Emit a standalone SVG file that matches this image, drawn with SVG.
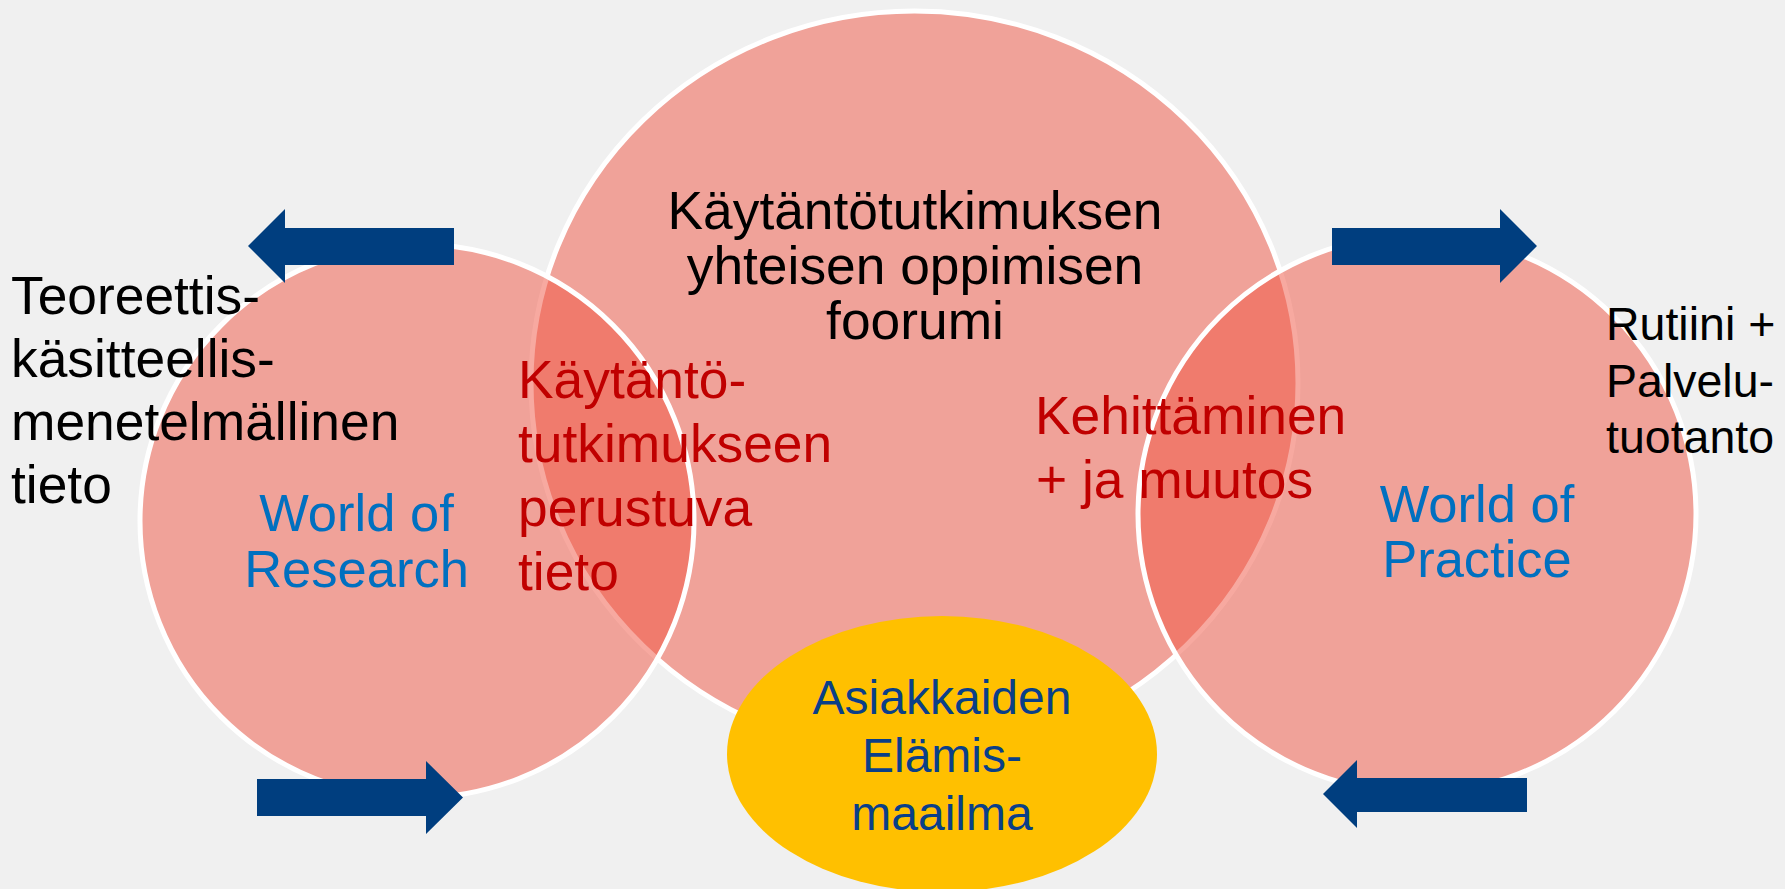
<svg xmlns="http://www.w3.org/2000/svg" width="1785" height="889" viewBox="0 0 1785 889">
<style>
.bubble{fill:rgb(240,84,65);fill-opacity:0.5;stroke:#ffffff;stroke-width:5}
.arrow{fill:#003E7F}
text{font-family:"Liberation Sans",Arial,sans-serif;font-size:53.33px}
.blk{fill:#000000}
.red{fill:#C00000}
.blu{fill:#0070C0;font-size:52.5px}
.navy{fill:#0A3F88;font-size:48px}
.small{font-size:46.5px}
.mid{text-anchor:middle}
</style>
<rect x="0" y="0" width="1785" height="889" fill="#F0F0F0"/>
<g id="forum">
<ellipse class="bubble" cx="914.5" cy="383" rx="383.5" ry="372"/>
</g>
<g id="world-of-research">
<circle class="bubble" cx="417" cy="521" r="277"/>
</g>
<g id="world-of-practice">
<circle class="bubble" cx="1417" cy="514" r="279"/>
</g>
<g id="asiakkaiden">
<ellipse cx="942" cy="754" rx="215" ry="138" fill="#FFC000"/>
</g>
<g id="connectors">
<polygon class="arrow" points="248,246 285,209 285,228 454,228 454,265 285,265 285,283"/>
<polygon class="arrow" points="257,779 426,779 426,761 463,797.5 426,834 426,816 257,816"/>
<polygon class="arrow" points="1332,228 1500,228 1500,209 1537,246 1500,283 1500,265 1332,265"/>
<polygon class="arrow" points="1323,794 1357,760 1357,778 1527,778 1527,812 1357,812 1357,828"/>
</g>
<g id="labels">
<text class="blk mid"><tspan x="915" y="229">Käytäntötutkimuksen</tspan><tspan x="915" y="284">yhteisen oppimisen</tspan><tspan x="915" y="339">foorumi</tspan></text>
<text class="blk"><tspan x="11" y="314">Teoreettis-</tspan><tspan x="11" y="377">käsitteellis-</tspan><tspan x="11" y="440">menetelmällinen</tspan><tspan x="11" y="503">tieto</tspan></text>
<text class="red"><tspan x="518" y="398">Käytäntö-</tspan><tspan x="518" y="462">tutkimukseen</tspan><tspan x="518" y="526">perustuva</tspan><tspan x="518" y="590">tieto</tspan></text>
<text class="blu mid"><tspan x="356.5" y="531">World of</tspan><tspan x="356.5" y="586.5">Research</tspan></text>
<text class="red"><tspan x="1035" y="434">Kehittäminen</tspan><tspan x="1036" y="498">+ ja muutos</tspan></text>
<text class="blu mid"><tspan x="1477" y="521.5">World of</tspan><tspan x="1477" y="576.5">Practice</tspan></text>
<text class="blk small"><tspan x="1606" y="340">Rutiini +</tspan><tspan x="1606" y="397">Palvelu-</tspan><tspan x="1606" y="453">tuotanto</tspan></text>
<text class="navy mid"><tspan x="942" y="714">Asiakkaiden</tspan><tspan x="942" y="772">Elämis-</tspan><tspan x="942" y="830">maailma</tspan></text>
</g>
</svg>
